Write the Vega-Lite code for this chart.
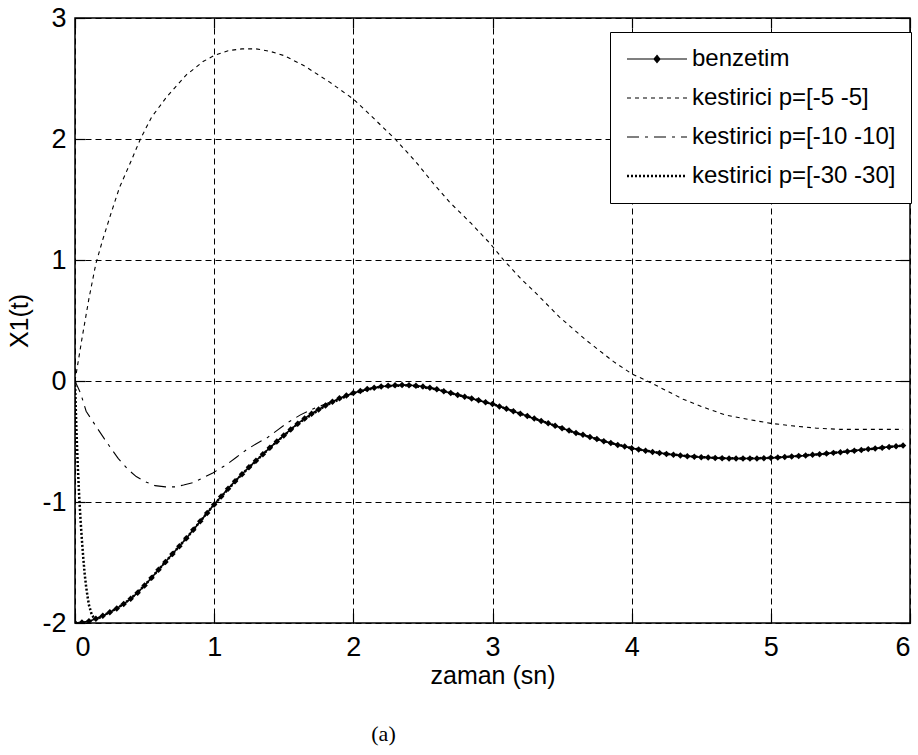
{
  "$schema": "https://vega.github.io/schema/vega-lite/v6.json",
  "width": 835,
  "height": 605,
  "autosize": "none",
  "padding": {"left": 75, "top": 18, "right": 8, "bottom": 132},
  "background": "white",
  "title": {"text": "(a)", "orient": "bottom", "anchor": "middle", "dx": -109, "offset": 36, "font": "Liberation Serif", "fontSize": 22, "fontWeight": "normal", "color": "black"},
  "config": {
    "view": {"stroke": "black", "strokeWidth": 1.5},
    "font": "Liberation Sans",
    "axis": {
      "domain": false,
      "grid": true,
      "gridColor": "black",
      "gridOpacity": 1,
      "gridWidth": 1,
      "gridDash": [6, 4],
      "tickColor": "black",
      "tickWidth": 1.2,
      "tickSize": -10,
      "labelColor": "black",
      "labelFont": "Liberation Sans",
      "labelFontSize": 27,
      "labelExpr": "'' + datum.value",
      "titleColor": "black",
      "titleFont": "Liberation Sans",
      "titleFontSize": 25,
      "titleFontWeight": "normal"
    }
  },
  "datasets": {
    "sim": [
      {"t":0.00,"v":-2.000},{"t":0.05,"v":-1.995},{"t":0.10,"v":-1.985},{"t":0.15,"v":-1.965},{"t":0.20,"v":-1.940},
      {"t":0.25,"v":-1.912},{"t":0.30,"v":-1.880},{"t":0.35,"v":-1.843},{"t":0.40,"v":-1.800},{"t":0.45,"v":-1.750},
      {"t":0.50,"v":-1.690},{"t":0.55,"v":-1.627},{"t":0.60,"v":-1.560},{"t":0.65,"v":-1.495},{"t":0.70,"v":-1.430},
      {"t":0.75,"v":-1.365},{"t":0.80,"v":-1.300},{"t":0.85,"v":-1.230},{"t":0.90,"v":-1.160},{"t":0.95,"v":-1.090},
      {"t":1.00,"v":-1.020},{"t":1.05,"v":-0.955},{"t":1.10,"v":-0.890},{"t":1.15,"v":-0.828},{"t":1.20,"v":-0.770},
      {"t":1.25,"v":-0.713},{"t":1.30,"v":-0.660},{"t":1.35,"v":-0.605},{"t":1.40,"v":-0.552},{"t":1.45,"v":-0.500},
      {"t":1.50,"v":-0.450},{"t":1.55,"v":-0.400},{"t":1.60,"v":-0.353},{"t":1.65,"v":-0.310},{"t":1.70,"v":-0.270},
      {"t":1.75,"v":-0.235},{"t":1.80,"v":-0.203},{"t":1.85,"v":-0.172},{"t":1.90,"v":-0.143},{"t":1.95,"v":-0.120},
      {"t":2.00,"v":-0.100},{"t":2.05,"v":-0.082},{"t":2.10,"v":-0.066},{"t":2.15,"v":-0.055},{"t":2.20,"v":-0.046},
      {"t":2.25,"v":-0.040},{"t":2.30,"v":-0.036},{"t":2.35,"v":-0.034},{"t":2.40,"v":-0.035},{"t":2.45,"v":-0.039},
      {"t":2.50,"v":-0.046},{"t":2.55,"v":-0.056},{"t":2.60,"v":-0.069},{"t":2.65,"v":-0.084},{"t":2.70,"v":-0.100},
      {"t":2.75,"v":-0.115},{"t":2.80,"v":-0.130},{"t":2.85,"v":-0.145},{"t":2.90,"v":-0.160},{"t":2.95,"v":-0.175},
      {"t":3.00,"v":-0.190},{"t":3.05,"v":-0.210},{"t":3.10,"v":-0.230},{"t":3.15,"v":-0.250},{"t":3.20,"v":-0.270},
      {"t":3.25,"v":-0.290},{"t":3.30,"v":-0.310},{"t":3.35,"v":-0.330},{"t":3.40,"v":-0.350},{"t":3.45,"v":-0.370},
      {"t":3.50,"v":-0.390},{"t":3.55,"v":-0.410},{"t":3.60,"v":-0.430},{"t":3.65,"v":-0.445},{"t":3.70,"v":-0.462},
      {"t":3.75,"v":-0.480},{"t":3.80,"v":-0.497},{"t":3.85,"v":-0.513},{"t":3.90,"v":-0.528},{"t":3.95,"v":-0.542},
      {"t":4.00,"v":-0.555},{"t":4.05,"v":-0.566},{"t":4.10,"v":-0.576},{"t":4.15,"v":-0.586},{"t":4.20,"v":-0.595},
      {"t":4.25,"v":-0.603},{"t":4.30,"v":-0.610},{"t":4.35,"v":-0.616},{"t":4.40,"v":-0.621},{"t":4.45,"v":-0.626},
      {"t":4.50,"v":-0.630},{"t":4.55,"v":-0.633},{"t":4.60,"v":-0.636},{"t":4.65,"v":-0.638},{"t":4.70,"v":-0.640},
      {"t":4.75,"v":-0.641},{"t":4.80,"v":-0.641},{"t":4.85,"v":-0.641},{"t":4.90,"v":-0.640},{"t":4.95,"v":-0.638},
      {"t":5.00,"v":-0.635},{"t":5.05,"v":-0.632},{"t":5.10,"v":-0.628},{"t":5.15,"v":-0.624},{"t":5.20,"v":-0.620},
      {"t":5.25,"v":-0.615},{"t":5.30,"v":-0.610},{"t":5.35,"v":-0.605},{"t":5.40,"v":-0.600},{"t":5.45,"v":-0.594},
      {"t":5.50,"v":-0.588},{"t":5.55,"v":-0.582},{"t":5.60,"v":-0.576},{"t":5.65,"v":-0.570},{"t":5.70,"v":-0.563},
      {"t":5.75,"v":-0.557},{"t":5.80,"v":-0.551},{"t":5.85,"v":-0.545},{"t":5.90,"v":-0.539},{"t":5.95,"v":-0.534}
    ],
    "p5": [
      {"t":0,"v":0},{"t":0.02,"v":0.14},{"t":0.05,"v":0.35},{"t":0.10,"v":0.68},{"t":0.15,"v":0.97},{"t":0.20,"v":1.17},
      {"t":0.26,"v":1.39},{"t":0.32,"v":1.60},{"t":0.40,"v":1.81},{"t":0.47,"v":2.00},{"t":0.55,"v":2.18},{"t":0.66,"v":2.35},
      {"t":0.80,"v":2.53},{"t":0.92,"v":2.64},{"t":1.00,"v":2.69},{"t":1.10,"v":2.73},{"t":1.20,"v":2.745},{"t":1.30,"v":2.745},
      {"t":1.40,"v":2.725},{"t":1.50,"v":2.69},{"t":1.64,"v":2.61},{"t":1.83,"v":2.47},{"t":2.00,"v":2.33},{"t":2.12,"v":2.20},
      {"t":2.30,"v":2.00},{"t":2.45,"v":1.81},{"t":2.57,"v":1.64},{"t":2.69,"v":1.48},{"t":2.84,"v":1.31},{"t":2.98,"v":1.14},
      {"t":3.08,"v":1.00},{"t":3.20,"v":0.85},{"t":3.30,"v":0.74},{"t":3.48,"v":0.53},{"t":3.67,"v":0.34},{"t":3.87,"v":0.16},
      {"t":4.00,"v":0.06},{"t":4.13,"v":-0.01},{"t":4.25,"v":-0.08},{"t":4.37,"v":-0.15},{"t":4.50,"v":-0.21},{"t":4.67,"v":-0.28},
      {"t":4.85,"v":-0.32},{"t":5.00,"v":-0.35},{"t":5.15,"v":-0.37},{"t":5.33,"v":-0.39},{"t":5.50,"v":-0.40},{"t":5.70,"v":-0.40},
      {"t":5.95,"v":-0.40}
    ],
    "p10": [
      {"t":0,"v":0},{"t":0.04,"v":-0.10},{"t":0.08,"v":-0.25},{"t":0.16,"v":-0.39},{"t":0.23,"v":-0.51},{"t":0.31,"v":-0.64},
      {"t":0.38,"v":-0.73},{"t":0.44,"v":-0.79},{"t":0.50,"v":-0.83},{"t":0.575,"v":-0.865},{"t":0.65,"v":-0.875},{"t":0.72,"v":-0.875},
      {"t":0.78,"v":-0.86},{"t":0.85,"v":-0.84},{"t":0.92,"v":-0.80},{"t":0.99,"v":-0.76},{"t":1.09,"v":-0.69},{"t":1.16,"v":-0.63},
      {"t":1.23,"v":-0.57},{"t":1.30,"v":-0.52},{"t":1.38,"v":-0.47},{"t":1.45,"v":-0.41},{"t":1.52,"v":-0.35},{"t":1.62,"v":-0.28},
      {"t":1.70,"v":-0.235},{"t":1.80,"v":-0.19},{"t":1.90,"v":-0.14},{"t":2.00,"v":-0.10},{"t":2.20,"v":-0.046},{"t":2.40,"v":-0.035},
      {"t":2.60,"v":-0.069},{"t":2.80,"v":-0.130},{"t":3.00,"v":-0.190},{"t":3.20,"v":-0.270},{"t":3.40,"v":-0.350},{"t":3.60,"v":-0.430},
      {"t":3.80,"v":-0.497},{"t":4.00,"v":-0.555},{"t":4.20,"v":-0.595},{"t":4.40,"v":-0.621},{"t":4.60,"v":-0.636},{"t":4.80,"v":-0.641},
      {"t":5.00,"v":-0.635},{"t":5.20,"v":-0.620},{"t":5.40,"v":-0.600},{"t":5.60,"v":-0.576},{"t":5.80,"v":-0.551},{"t":5.95,"v":-0.534}
    ],
    "p30": [
      {"t":0,"v":0},{"t":0.005,"v":-0.2},{"t":0.01,"v":-0.4},{"t":0.02,"v":-0.7},{"t":0.03,"v":-0.95},{"t":0.04,"v":-1.15},
      {"t":0.05,"v":-1.32},{"t":0.06,"v":-1.47},{"t":0.07,"v":-1.60},{"t":0.08,"v":-1.70},{"t":0.09,"v":-1.78},{"t":0.10,"v":-1.85},
      {"t":0.12,"v":-1.93},{"t":0.14,"v":-1.965},{"t":0.17,"v":-1.96},{"t":0.20,"v":-1.94},{"t":0.30,"v":-1.88},{"t":0.40,"v":-1.80},
      {"t":0.50,"v":-1.69},{"t":0.60,"v":-1.56},{"t":0.70,"v":-1.43},{"t":0.80,"v":-1.30},{"t":0.90,"v":-1.16},{"t":1.00,"v":-1.02},
      {"t":1.20,"v":-0.77},{"t":1.40,"v":-0.552},{"t":1.60,"v":-0.353},{"t":1.80,"v":-0.203},{"t":2.00,"v":-0.100},{"t":2.20,"v":-0.046},
      {"t":2.40,"v":-0.035},{"t":2.60,"v":-0.069},{"t":2.80,"v":-0.130},{"t":3.00,"v":-0.190},{"t":3.20,"v":-0.270},{"t":3.40,"v":-0.350},
      {"t":3.60,"v":-0.430},{"t":3.80,"v":-0.497},{"t":4.00,"v":-0.555},{"t":4.20,"v":-0.595},{"t":4.40,"v":-0.621},{"t":4.60,"v":-0.636},
      {"t":4.80,"v":-0.641},{"t":5.00,"v":-0.635},{"t":5.20,"v":-0.620},{"t":5.40,"v":-0.600},{"t":5.60,"v":-0.576},{"t":5.80,"v":-0.551},
      {"t":5.95,"v":-0.534}
    ]
  },
  "resolve": {"axis": {"x": "independent", "y": "independent"}},
  "layer": [
    {
      "data": {"name": "p5"},
      "mark": {"type": "line", "color": "black", "strokeWidth": 1.1, "clip": true},
      "encoding": {
        "x": {"field": "t", "type": "quantitative", "scale": {"domain": [0, 6], "nice": false, "zero": false},
              "axis": {"title": "zaman (sn)", "values": [0,1,2,3,4,5,6], "labelPadding": 21, "titlePadding": 3}},
        "y": {"field": "v", "type": "quantitative", "scale": {"domain": [-2, 3], "nice": false, "zero": false},
              "axis": {"title": "X1(t)", "values": [-2,-1,0,1,2,3], "labelPadding": 19, "titlePadding": 9}},
        "strokeDash": {
          "datum": "kestirici p=[-5 -5]", "type": "nominal",
          "scale": {"domain": ["benzetim", "kestirici p=[-5 -5]", "kestirici p=[-10 -10]", "kestirici p=[-30 -30]"],
                    "range": [[1, 0], [4, 4], [12, 6, 3, 6], [2, 2]]},
          "legend": {
            "title": null, "orient": "none", "legendX": 535, "legendY": 14,
            "strokeColor": "black", "fillColor": "white", "padding": 15,
            "labelFont": "Liberation Sans", "labelFontSize": 24, "labelColor": "black", "labelLimit": 0,
            "labelOffset": 43, "rowPadding": 15,
            "symbolType": "M-1,0L5,0", "symbolSize": 400, "symbolStrokeColor": "black", "symbolStrokeWidth": 1.2,
            "encode": {
              "symbols": {
                "update": {
                  "shape": {"signal": "datum.value === 'benzetim' ? 'M-1,0L5,0M2,-0.35L2.3,0L2,0.35L1.7,0Z' : 'M-1,0L5,0'"},
                  "stroke": {"value": "black"},
                  "fill": {"signal": "datum.value === 'benzetim' ? 'black' : 'transparent'"},
                  "strokeWidth": {"signal": "datum.value === 'kestirici p=[-30 -30]' ? 2.5 : 1.2"}
                }
              }
            }
          }
        }
      }
    },
    {
      "data": {"name": "p10"},
      "mark": {"type": "line", "color": "black", "strokeWidth": 1.1, "clip": true},
      "encoding": {
        "x": {"field": "t", "type": "quantitative", "axis": null},
        "y": {"field": "v", "type": "quantitative", "axis": null},
        "strokeDash": {"datum": "kestirici p=[-10 -10]", "type": "nominal"}
      }
    },
    {
      "data": {"name": "p30"},
      "mark": {"type": "line", "color": "black", "strokeWidth": 2.5, "clip": true},
      "encoding": {
        "x": {"field": "t", "type": "quantitative", "axis": null},
        "y": {"field": "v", "type": "quantitative", "axis": null},
        "strokeDash": {"datum": "kestirici p=[-30 -30]", "type": "nominal"}
      }
    },
    {
      "data": {"name": "sim"},
      "mark": {"type": "line", "color": "black", "strokeWidth": 1.6, "clip": true},
      "encoding": {
        "x": {"field": "t", "type": "quantitative", "axis": null},
        "y": {"field": "v", "type": "quantitative", "axis": null},
        "strokeDash": {"datum": "benzetim", "type": "nominal"}
      }
    },
    {
      "data": {"name": "sim"},
      "mark": {"type": "point", "shape": "diamond", "filled": true, "color": "black", "size": 42, "opacity": 1, "clip": true},
      "encoding": {
        "x": {"field": "t", "type": "quantitative",
              "axis": {"orient": "top", "labels": false, "title": null, "grid": false, "values": [0,1,2,3,4,5,6]}},
        "y": {"field": "v", "type": "quantitative",
              "axis": {"orient": "right", "labels": false, "title": null, "grid": false, "values": [-2,-1,0,1,2,3]}}
      }
    }
  ]
}
